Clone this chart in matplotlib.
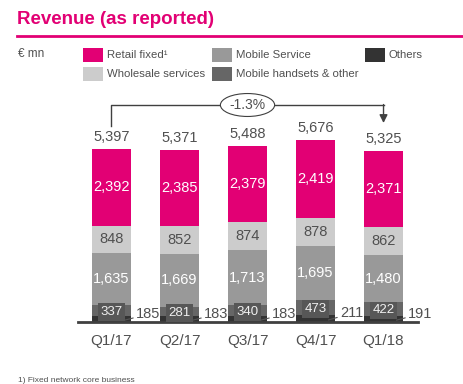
import numpy as np
import matplotlib
matplotlib.use("Agg")
import matplotlib.pyplot as plt
from matplotlib.patches import Rectangle

plt.rcParams['font.family'] = ['Liberation Sans', 'DejaVu Sans']

quarters = ["Q1/17", "Q2/17", "Q3/17", "Q4/17", "Q1/18"]
others = [185, 183, 183, 211, 191]
handsets = [337, 281, 340, 473, 422]
mobile_service = [1635, 1669, 1713, 1695, 1480]
wholesale = [848, 852, 874, 878, 862]
retail_fixed = [2392, 2385, 2379, 2419, 2371]
totals = [5397, 5371, 5488, 5676, 5325]
change_label = "-1.3%"

legend_labels = ["Retail fixed\u00b9", "Wholesale services", "Mobile Service",
                 "Mobile handsets & other", "Others"]

MAGENTA = "#E20074"
C_WHOLE = "#CCCCCC"
C_MOB = "#999999"
C_HAND = "#666666"
C_OTH = "#333333"
TXT = "#505050"

W, H = 464, 384
fig = plt.figure(figsize=(W / 100, H / 100), dpi=100)

def fx(px):
    return px / W

def fy(py):
    return 1 - py / H

# header
fig.text(fx(17), fy(19), "Revenue (as reported)", color=MAGENTA, fontsize=13.5,
         fontweight='bold', va='center', ha='left')
fig.add_artist(plt.Line2D([fx(17), 1], [fy(36), fy(36)], color=MAGENTA, lw=2))
fig.text(fx(18), fy(54), "\u20ac mn", color=TXT, fontsize=8.5, va='center')

# legend drawn by hand to keep the column layout
leg_colors = [MAGENTA, C_WHOLE, C_MOB, C_HAND, C_OTH]
leg_pos = [(83, 55), (83, 74), (212, 55), (212, 74), (365, 55)]
for lab, col, (px, py) in zip(legend_labels, leg_colors, leg_pos):
    fig.add_artist(Rectangle((fx(px), fy(py + 7)), fx(20), 14 / H,
                             facecolor=col, edgecolor='none'))
    fig.text(fx(px + 24), fy(py), lab, color=TXT, fontsize=8.2, va='center')

# axes: baseline at 322 px, 68 px per category
ax = fig.add_axes([fx(78), fy(322), fx(340), 232 / H])
ax.set_xlim(-0.4926, 4.507)
ax.set_ylim(0, 232 / 0.03206)
for s in ["top", "right", "left"]:
    ax.spines[s].set_visible(False)
ax.spines["bottom"].set_color("#404040")
ax.spines["bottom"].set_linewidth(2)
ax.set_yticks([])
x = np.arange(len(quarters))
ax.set_xticks(x)
ax.set_xticklabels(quarters, fontsize=11, color=TXT)
ax.tick_params(axis='x', length=0, pad=9)

bw = 0.574
layers = [(others, C_OTH), (handsets, C_HAND), (mobile_service, C_MOB),
          (wholesale, C_WHOLE), (retail_fixed, MAGENTA)]
bottom = np.zeros(len(quarters))
bottoms = []
for vals, col in layers:
    ax.bar(x, vals, bw, bottom=bottom, color=col, edgecolor='none')
    bottoms.append(bottom.copy())
    bottom = bottom + np.array(vals)

fs = 10.5
for i in range(len(quarters)):
    b = bottoms[4][i]
    ax.text(x[i], b + retail_fixed[i] / 2, f"{retail_fixed[i]:,}", color='white',
            fontsize=fs, ha='center', va='center')
    b = bottoms[3][i]
    ax.text(x[i], b + wholesale[i] / 2, f"{wholesale[i]:,}", color=TXT,
            fontsize=fs, ha='center', va='center')
    b = bottoms[2][i]
    ax.text(x[i], b + mobile_service[i] / 2, f"{mobile_service[i]:,}", color='white',
            fontsize=fs, ha='center', va='center')
    b = bottoms[1][i]
    ax.text(x[i], b + handsets[i] / 2 - 40, f"{handsets[i]:,}", color='#F0F0F0',
            fontsize=9.5, ha='center', va='center',
            bbox=dict(boxstyle='square,pad=0.2', facecolor='#575757', edgecolor='none'))
    # others, outside with a short leader
    ax.annotate(f"{others[i]:,}", xy=(x[i] + 0.19, others[i] * 0.3),
                xytext=(x[i] + 0.36, others[i] + 60), fontsize=fs, color=TXT,
                ha='left', va='center',
                arrowprops=dict(arrowstyle='-', color='#555555', lw=0.8,
                                shrinkA=0, shrinkB=0))
    ax.text(x[i], totals[i] + 150, f"{totals[i]:,}", color=TXT, fontsize=fs,
            ha='center', va='bottom')

# change bracket
y_start = 6115
y_line = (322 - 105) / 0.03206
y_tip = (322 - 123) / 0.03206
ax.plot([x[0], x[0], x[-1]], [y_start, y_line, y_line], color='#404040', lw=1,
        clip_on=False)
ax.annotate("", xy=(x[-1], y_tip), xytext=(x[-1], y_line + 15),
            arrowprops=dict(arrowstyle='-|>', color='#404040', lw=1,
                            mutation_scale=12, shrinkA=0, shrinkB=0),
            annotation_clip=False)
ax.text((247.5 - 111.5) / 68, y_line, change_label, fontsize=10, color=TXT,
        ha='center', va='center',
        bbox=dict(boxstyle='ellipse,pad=0.08', facecolor='white', edgecolor='#404040', lw=0.8))

fig.text(fx(18), fy(381), "1) Fixed network core business", color=TXT, fontsize=6,
         va='center')

fig.savefig("out.png", dpi=100)
